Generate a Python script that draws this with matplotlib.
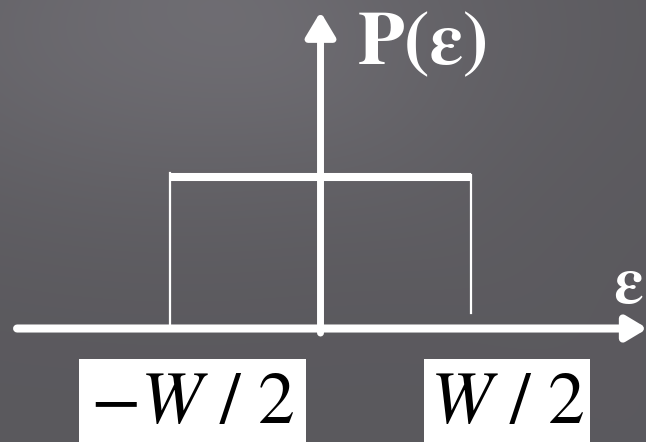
import numpy as np
import matplotlib.pyplot as plt
from matplotlib.patches import Rectangle

plt.rcParams['mathtext.fontset'] = 'stix'

# box distribution P(eps) = 1/W on [-W/2, W/2]
W = 2.0
P0 = 1.0
edges = [-W / 2, W / 2]
edge_labels = [r'$-W\ /\ 2$', r'$W\ /\ 2$']
label_x = [-0.848, 1.235]
label_box_w = [1.503, 1.10]
right_side_gap = 0.10  # right edge of the box stops short of the axis

fig = plt.figure(figsize=(6.46, 4.42), dpi=100)
ax = fig.add_axes([0, 0, 1, 1])
xmin, xmax = -2.123, 2.156
ymin, ymax = -0.749, 2.168
ax.set_xlim(xmin, xmax)
ax.set_ylim(ymin, ymax)
ax.axis('off')

# slide-style dark background with a soft light patch at the top left
ny, nx = 221, 323
yy, xx = np.mgrid[0:ny, 0:nx]
glow = np.exp(-(((xx - 90) / 170.0) ** 2 + ((yy - 15) / 90.0) ** 2))
streak = 0.5 * np.exp(-(((xx - yy * 0.9) - 120) / 60.0) ** 2) * np.exp(-yy / 120.0)
v = 0.355 + 0.07 * glow + 0.02 * streak
bg = np.dstack([v, v * 0.985, v * 1.035])
ax.imshow(np.clip(bg, 0, 1), extent=[xmin, xmax, ymin, ymax], aspect='auto',
          zorder=0, interpolation='bicubic')

white = 'white'
arrow_v = dict(arrowstyle='-|>,head_length=0.6,head_width=0.36', color=white,
               lw=5.0, mutation_scale=25, shrinkA=0, shrinkB=0)
arrow_h = dict(arrowstyle='-|>,head_length=0.55,head_width=0.33', color=white,
               lw=5.8, mutation_scale=22, shrinkA=0, shrinkB=0)

# axes with arrows
ax.annotate('', xy=(xmax + 0.01, 0), xytext=(-2.01, 0), arrowprops=arrow_h,
            annotation_clip=False, zorder=3)
ax.annotate('', xy=(0, 2.09), xytext=(0, -0.03), arrowprops=arrow_v,
            annotation_clip=False, zorder=3)

# the box
ax.plot(edges, [P0, P0], color=white, lw=5.8, solid_capstyle='butt', zorder=2)
ax.plot([edges[0], edges[0]], [0, P0 + 0.025], color=white, lw=1.6, zorder=2)
ax.plot([edges[1], edges[1]], [right_side_gap, P0 + 0.01], color=white, lw=1.6, zorder=2)

# axis names
ax.text(0.248, 1.746, 'P(ε)', family='STIXGeneral', weight='bold',
        fontsize=55, color=white, va='baseline', ha='left', zorder=4)
ax.text(1.935, 0.168, 'ε', family='STIXGeneral', weight='bold',
        fontsize=48, color=white, va='baseline', ha='left', zorder=4)

# edge labels in white boxes
box_top = -0.201
for lx, bw, lab in zip(label_x, label_box_w, edge_labels):
    ax.add_patch(Rectangle((lx - bw / 2, ymin - 0.05), bw, box_top - ymin + 0.05,
                           facecolor=white, edgecolor='none', zorder=4))
    ax.text(lx, -0.624, lab, fontsize=53, color='black', ha='center',
            va='baseline', zorder=5)

fig.savefig('out.png', dpi=100)
